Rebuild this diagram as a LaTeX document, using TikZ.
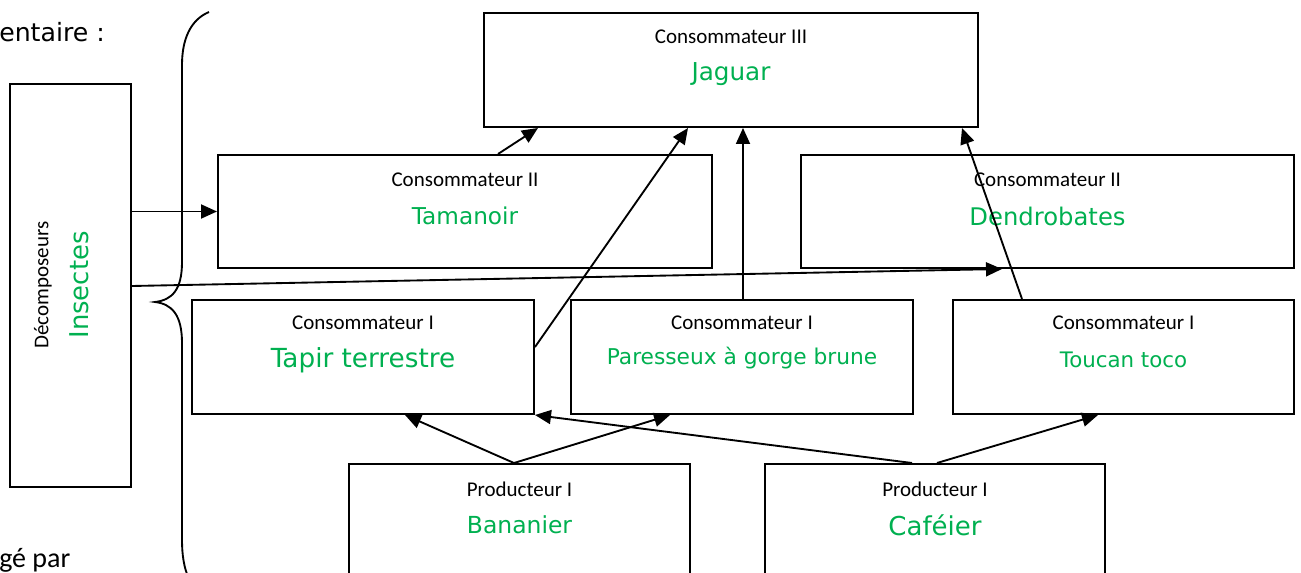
\documentclass[tikz,border=0pt]{standalone}
\usepackage{fontspec}
\setmainfont{Carlito}
\newfontfamily\comicf{DejaVu Sans}
\usetikzlibrary{arrows.meta,calc}
\definecolor{wgreen}{RGB}{0,176,80}
\newcommand\gfont[1]{\comicf\fontsize{#1}{#1}\selectfont}
\tikzset{
  box/.style={draw, line width=1.5pt, anchor=north west, inner sep=0pt},
  lbl/.style={font=\fontsize{15.75}{18}\selectfont, inner sep=0pt},
  grn/.style={text=wgreen, inner sep=0pt},
  arr/.style={line width=1.4pt, -{Triangle[length=12pt,width=10.5pt]}},
  brace/.style={line width=1.4pt}
}
\begin{document}
\begin{tikzpicture}[x=0.75pt,y=-0.75pt]
\useasboundingbox (0,0) rectangle (1301,573);
\clip (0,0) rectangle (1301,573);
% boxes
\node[box, minimum width=370.5pt, minimum height=85.5pt] (jaguar) at (483,12) {};
\node[box, minimum width=370.5pt, minimum height=84.75pt] (tamanoir) at (217,154) {};
\node[box, minimum width=369.75pt, minimum height=84.75pt] (dendro) at (800,154) {};
\node[box, minimum width=256.5pt, minimum height=85.5pt] (tapir) at (191,299) {};
\node[box, minimum width=256.5pt, minimum height=85.5pt] (paresseux) at (570,299) {};
\node[box, minimum width=255.75pt, minimum height=85.5pt] (toucan) at (952,299) {};
\node[box, minimum width=255.75pt, minimum height=97.5pt] (bananier) at (348,463) {};
\node[box, minimum width=255pt, minimum height=97.5pt] (cafeier) at (764,463) {};
\node[box, minimum width=90.75pt, minimum height=302.25pt] (decomp) at (9,83) {};
% labels
\node[lbl] (jaguarL) at ($(jaguar.north)+(0,25)$) {Consommateur III};
\node[grn, font=\gfont{18.5}] (jaguarG) at ($(jaguar.north)+(0,62)$) {Jaguar};
\node[lbl] (tamanoirL) at ($(tamanoir.north)+(0,26)$) {Consommateur II};
\node[grn, font=\gfont{17.4}] (tamanoirG) at ($(tamanoir.north)+(0,62)$) {Tamanoir};
\node[lbl] (dendroL) at ($(dendro.north)+(0,26)$) {Consommateur II};
\node[grn, font=\gfont{18.2}] (dendroG) at ($(dendro.north)+(0,62)$) {Dendrobates};
\node[lbl] (tapirL) at ($(tapir.north)+(0,24)$) {Consommateur I};
\node[grn, font=\gfont{19.7}] (tapirG) at ($(tapir.north)+(0,61)$) {Tapir terrestre};
\node[lbl] (paresseuxL) at ($(paresseux.north)+(0,24)$) {Consommateur I};
\node[grn, font=\gfont{16.3}] (paresseuxG) at ($(paresseux.north)+(0,59)$) {Paresseux à gorge brune};
\node[lbl] (toucanL) at ($(toucan.north)+(0,24)$) {Consommateur I};
\node[grn, font=\gfont{16}] (toucanG) at ($(toucan.north)+(0,61)$) {Toucan toco};
\node[lbl] (bananierL) at ($(bananier.north)+(0,26)$) {Producteur I};
\node[grn, font=\gfont{17.6}] (bananierG) at ($(bananier.north)+(0,62)$) {Bananier};
\node[lbl] (cafeierL) at ($(cafeier.north)+(0,26)$) {Producteur I};
\node[grn, font=\gfont{19.5}] (cafeierG) at ($(cafeier.north)+(0,62)$) {Caféier};
\node[lbl, rotate=90] (decompL) at ($(decomp.north west)+(34,202)$) {Décomposeurs};
\node[grn, rotate=90, font=\gfont{19.4}] (decompG) at ($(decomp.north west)+(70,202)$) {Insectes};
% cut-off texts
\node[inner sep=0pt, anchor=west, font=\gfont{18.9}] (titre) at (-1,32) {entaire :};
\node[inner sep=0pt, anchor=base west, font=\fontsize{21}{24}\selectfont] (redige) at (-1,567) {gé par};
% brace
\draw[brace] (209,12) .. controls (190,20) and (182,40) .. (182,65) -- (182,262)
  .. controls (182,290) and (172,300) .. (155,302)
  .. controls (172,304) and (182,315) .. (182,343) -- (182,540)
  .. controls (182,570) and (190,590) .. (209,600);
% connectors
\draw[arr] ($(tamanoir.north west)+(281,0)$) -- ($(jaguar.south west)+(55,0)$);
\draw[arr] ($(tapir.north east)+(0,48)$) -- ($(jaguar.south west)+(205,0)$);
\draw[arr] ($(jaguar.south west)+(260,0)$) ++(0,173) -- ($(jaguar.south west)+(260,0)$);
\draw[arr] ($(toucan.north west)+(70,0)$) -- ($(jaguar.south west)+(479,0)$);
\draw[arr] (decomp.east |- tamanoir.west) -- (tamanoir.west);
\draw[arr] ($(decomp.north east)+(0,203)$) -- ($(dendro.south west)+(202,0)$);
\draw[arr] ($(bananier.north west)+(166,0)$) -- ($(tapir.south west)+(214,0)$);
\draw[arr] ($(bananier.north west)+(166,0)$) -- ($(paresseux.south west)+(100,0)$);
\draw[arr] ($(cafeier.north west)+(148,0)$) -- (tapir.south east);
\draw[arr] ($(cafeier.north west)+(173,0)$) -- ($(toucan.south west)+(146,0)$);
\end{tikzpicture}
\end{document}
